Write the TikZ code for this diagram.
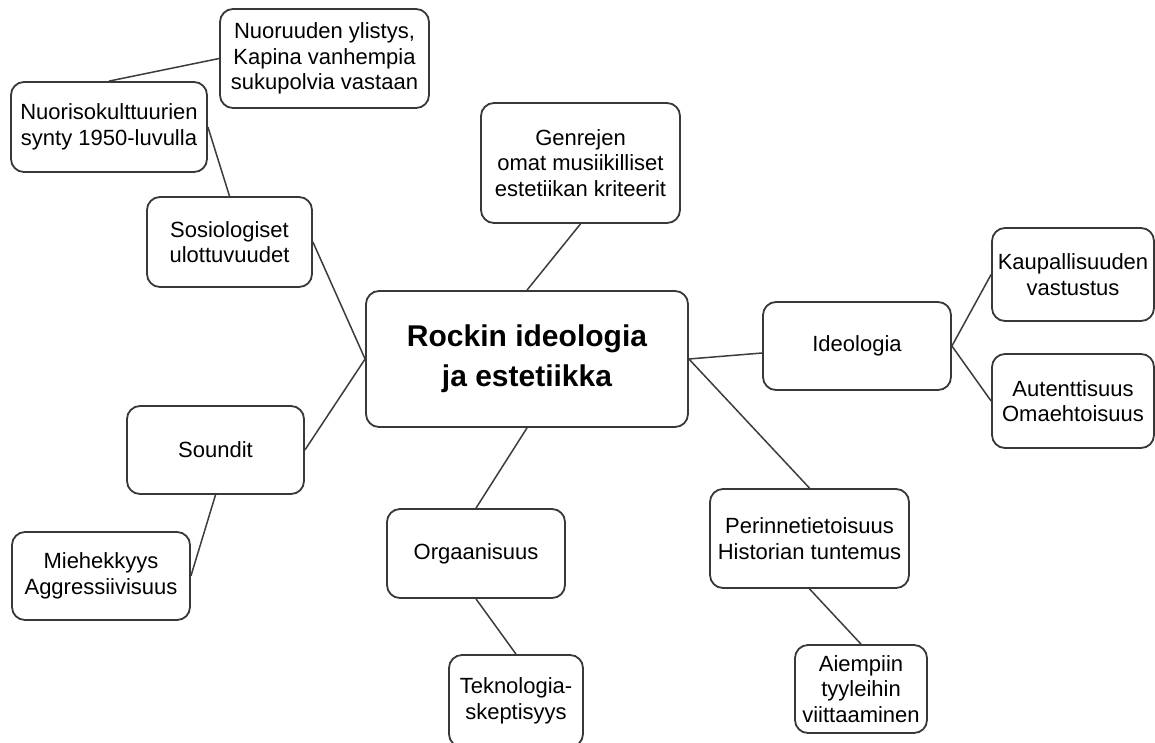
\documentclass[tikz,border=0pt]{standalone}
\usepackage{fontspec}
\setmainfont{Liberation Sans}
\definecolor{boxgray}{HTML}{383838}
\definecolor{linegray}{HTML}{3C3C3C}
\begin{document}
\begin{tikzpicture}[x=1pt,y=-1pt,
  box/.style={draw=boxgray, line width=1.8pt, rounded corners=13pt, fill=white,
    align=center, inner sep=0pt, text=black,
    font=\fontsize{22}{25.5}\selectfont},
  mainbox/.style={box, font=\bfseries\fontsize{30}{40}\selectfont},
  conn/.style={draw=linegray, line width=1.5pt}]
\fill[white] (0,0) rectangle (1155,742);
\useasboundingbox (0,0) rectangle (1155,742);

\node[box, minimum width=209pt, minimum height=99pt] (nuor) at (324.5,58.5) {Nuoruuden ylistys,\\Kapina vanhempia\\sukupolvia vastaan};
\node[box, minimum width=196pt, minimum height=90pt] (nuoriso) at (109,127) {Nuorisokulttuurien\\synty 1950-luvulla};
\node[box, minimum width=165pt, minimum height=90pt] (sosio) at (229.5,242) {Sosiologiset\\ulottuvuudet};
\node[box, minimum width=199pt, minimum height=120pt] (genre) at (580.5,163) {Genrejen\\omat musiikilliset\\estetiikan kriteerit};
\node[mainbox, minimum width=322pt, minimum height=136pt] (center) at (527,359) {Rockin ideologia\\ja estetiikka};
\node[box, minimum width=188pt, minimum height=88pt] (ideo) at (857,346) {Ideologia};
\node[box, minimum width=162pt, minimum height=93pt] (kaup) at (1073,274.5) {Kaupallisuuden\\vastustus};
\node[box, minimum width=162pt, minimum height=94pt] (aut) at (1073,401) {Autenttisuus\\Omaehtoisuus};
\node[box, minimum width=177pt, minimum height=88pt] (soundit) at (215.5,450) {Soundit};
\node[box, minimum width=178pt, minimum height=88pt] (mieh) at (101,576) {Miehekkyys\\Aggressiivisuus};
\node[box, minimum width=178pt, minimum height=89pt] (org) at (476,553.5) {Orgaanisuus};
\node[box, minimum width=134pt, minimum height=92pt] (tekno) at (516,701) {Teknologia-\\skeptisyys};
\node[box, minimum width=199pt, minimum height=99pt] (perinne) at (809.5,538.5) {Perinnetietoisuus\\Historian tuntemus};
\node[box, minimum width=132pt, minimum height=88pt] (aiemp) at (861,689) {Aiempiin\\tyyleihin\\viittaaminen};

\draw[conn] (nuor.west) -- (nuoriso.north);
\draw[conn] (nuoriso.east) -- (sosio.north);
\draw[conn] (sosio.east) -- (center.west);
\draw[conn] (soundit.east) -- (center.west);
\draw[conn] (soundit.south) -- (mieh.east);
\draw[conn] (genre.south) -- (center.north);
\draw[conn] (center.south) -- (org.north);
\draw[conn] (org.south) -- (tekno.north);
\draw[conn] (center.east) -- ([yshift=-7pt]ideo.west);
\draw[conn] (center.east) -- (perinne.north);
\draw[conn] (ideo.east) -- (kaup.west);
\draw[conn] (ideo.east) -- (aut.west);
\draw[conn] (perinne.south) -- (aiemp.north);
\end{tikzpicture}
\end{document}
